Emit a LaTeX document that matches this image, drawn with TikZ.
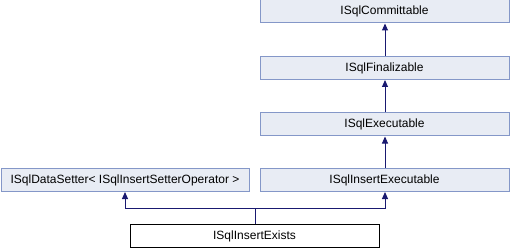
\documentclass[tikz,border=0pt]{standalone}
\usepackage{fontspec}
\setmainfont{Liberation Sans}
\usetikzlibrary{arrows.meta}
\definecolor{boxfill}{HTML}{E8ECF4}
\definecolor{boxline}{HTML}{8497C8}
\definecolor{edgecol}{HTML}{191970}
\begin{document}
\begin{tikzpicture}[x=1pt,y=-1pt,
  classbox/.style={draw=boxline,fill=boxfill,line width=1pt,minimum height=23pt,inner sep=0pt,
    font=\fontsize{12}{14}\selectfont},
  thisbox/.style={draw=black,fill=white,line width=1pt,minimum height=23pt,inner sep=0pt,
    font=\fontsize{12}{14}\selectfont},
  inherit/.style={draw=edgecol,line width=1pt,-{Triangle[length=7pt,width=6pt]}}]
\useasboundingbox (0,0) rectangle (510,248);
\node[classbox,minimum width=249pt] (commit) at (384.5,11.5) {ISqlCommittable};
\node[classbox,minimum width=249pt] (final) at (384.5,68) {ISqlFinalizable};
\node[classbox,minimum width=249pt] (exec) at (384.5,124.5) {ISqlExecutable};
\node[classbox,minimum width=249pt] (insexec) at (384.5,180) {ISqlInsertExecutable};
\node[classbox,minimum width=248pt] (setter) at (125,180) {ISqlDataSetter< ISqlInsertSetterOperator >};
\node[thisbox,minimum width=249pt] (exists) at (254.5,236) {ISqlInsertExists};
\coordinate (junc) at (255,208);
\draw[inherit] (final.north -| 385,0) -- (commit.south -| 385,0);
\draw[inherit] (exec.north -| 385,0) -- (final.south -| 385,0);
\draw[inherit] (insexec.north -| 385,0) -- (exec.south -| 385,0);
\draw[draw=edgecol,line width=1pt] (exists.north -| junc) -- (junc);
\draw[inherit] (junc) -| (insexec.south -| 385,0);
\draw[inherit] (junc) -| (setter.south -| 125,0);
\end{tikzpicture}
\end{document}
